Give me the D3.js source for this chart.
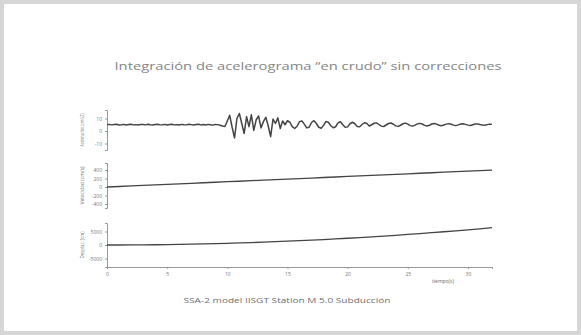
<!DOCTYPE html>
<html><head><meta charset="utf-8">
<script src="https://cdn.jsdelivr.net/npm/d3@7"></script>
<style>html,body{margin:0;padding:0;background:#d6d6d6;}svg{display:block;}</style>
</head><body>
<svg id="c" width="581" height="335"></svg>
<script>
const titleText = "Integración de acelerograma \u201cen crudo\u201d sin correcciones";
const captionText = "SSA-2 model IISGT Station M 5.0 Subducción";
const xLabel = "tiempo(s)";
const yLabels = ["Aceleración (cm/s2)", "Velocidad (cm/s)", "Desplaz. (cm)"];

const accDt = 0.2;
const accValues = [
5.1,5.3,4.9,5.2,5.4,4.8,5.0,5.3,4.8,5.2,
5.4,4.9,5.1,4.8,5.3,5.2,4.9,5.4,5.0,4.8,
5.2,5.4,4.9,5.0,5.3,4.8,5.2,5.4,4.9,5.1,
4.8,5.3,5.0,4.9,5.4,5.1,4.8,5.2,5.4,4.9,
5.2,4.8,5.3,5.0,4.7,5.2,5.1,4.6,4.0,3.6,
8.0,12.5,3.0,-5.5,10.0,14.0,6.0,-2.0,11.5,3.5,
13.0,0.5,9.0,12.0,2.5,7.5,11.0,4.0,-4.5,9.5,
6.0,10.5,2.0,8.0,5.0,
8.2,7.0,3.5,2.0,3.8,7.5,8.0,5.5,2.5,3.0,
6.8,8.3,6.0,3.0,2.2,4.5,7.6,7.0,4.2,2.6,
3.4,6.5,7.4,5.0,3.0,3.3,5.8,7.0,5.8,3.6,
3.4,5.2,6.6,6.0,4.0,
5.0,6.2,6.5,5.2,3.9,3.6,4.8,6.0,6.4,5.4,
4.1,3.7,4.6,5.8,6.3,5.5,4.3,3.9,4.7,5.7,
6.1,5.6,4.5,4.0,4.6,5.6,6.0,5.5,4.6,4.2,
4.8,5.5,5.9,5.4,4.7,4.3,4.9,5.6,5.8,5.3,
4.7,4.4,5.0,5.6,5.7,5.2,4.8,4.6,5.1,5.5,
5.3];

const velTimes = [0,1,2,3,4,5,6,7,8,9,10,11,12,13,14,15,16,17,18,19,20,21,22,23,24,25,26,27,28,29,30,31,32];
const velValues = [0,12,25,37,50,62,75,87,100,112,125,136,150,161,174,187,199,211,224,236,249,261,274,286,299,311,324,336,349,361,374,386,399];
const dispValues = [0,6,25,56,100,156,225,306,400,506,625,756,900,1056,1225,1406,1600,1806,2025,2256,2500,2756,3025,3306,3600,3906,4225,4556,4900,5256,5625,6006,6450];

const xTicks = [0,5,10,15,20,25,30];
const accTicks = [10,0,-10];
const velTicks = [400,200,0,-200,-400];
const dispTicks = [5000,0,-5000];

const svg = d3.select("#c");
svg.append("rect").attr("x",4).attr("y",4).attr("width",573).attr("height",327).attr("fill","#fff");

svg.append("text").attr("x",308).attr("y",70).attr("text-anchor","middle")
  .attr("font-family","Open Sans").attr("font-size",11.5).attr("fill","#858585")
  .attr("textLength",387).attr("lengthAdjust","spacingAndGlyphs").text(titleText);

svg.append("text").attr("x",287).attr("y",303).attr("text-anchor","middle")
  .attr("font-family","Open Sans").attr("font-size",6.5).attr("fill","#707070")
  .attr("textLength",207).attr("lengthAdjust","spacingAndGlyphs").text(captionText);

const x = d3.scaleLinear().domain([0,32]).range([107,492]);

const panels = [
  {top:110, bottom:150, domain:[-15.2,16.8], ticks:accTicks, label:yLabels[0], labLen:33,
   data: accValues.map((v,i)=>[i*accDt, v]), width:1.5},
  {top:163, bottom:208, domain:[-494,565], ticks:velTicks, label:yLabels[1], labLen:38,
   data: velTimes.map((t,i)=>[t, velValues[i]]), width:1.3},
  {top:223, bottom:267, domain:[-8150,8150], ticks:dispTicks, label:yLabels[2], labLen:27,
   data: velTimes.map((t,i)=>[t, dispValues[i]]), width:1.3}
];

panels.forEach(p=>{
  const y = d3.scaleLinear().domain(p.domain).range([p.bottom,p.top]);
  const g = svg.append("g").attr("transform","translate(107,0)");
  g.call(d3.axisLeft(y).tickValues(p.ticks).tickSize(2).tickFormat(d=>String(d)));
  g.select(".domain").attr("stroke","#999").attr("stroke-width",1);
  g.selectAll(".tick line").attr("stroke","#999");
  g.selectAll(".tick text").attr("font-family","Open Sans").attr("font-size",5).attr("fill","#777");
  const yc = (p.top+p.bottom)/2;
  svg.append("text").attr("transform",`translate(84,${yc}) rotate(-90)`).attr("text-anchor","middle")
    .attr("font-family","Open Sans").attr("font-size",4.5).attr("fill","#777")
    .attr("textLength",p.labLen).attr("lengthAdjust","spacingAndGlyphs").text(p.label);
  svg.append("path").datum(p.data)
    .attr("d", d3.line().x(d=>x(d[0])).y(d=>y(d[1])))
    .attr("fill","none").attr("stroke","#444").attr("stroke-width",p.width).attr("stroke-linejoin","round");
});

const gx = svg.append("g").attr("transform","translate(0,267)");
gx.call(d3.axisBottom(x).tickValues(xTicks).tickSize(2).tickFormat(d=>String(d)));
gx.select(".domain").attr("stroke","#999");
gx.selectAll(".tick line").attr("stroke","#999");
gx.selectAll(".tick text").attr("font-family","Open Sans").attr("font-size",5).attr("fill","#777");

svg.append("text").attr("x",443).attr("y",283).attr("text-anchor","middle")
  .attr("font-family","Open Sans").attr("font-size",5).attr("fill","#666").text(xLabel);
</script>
</body></html>
